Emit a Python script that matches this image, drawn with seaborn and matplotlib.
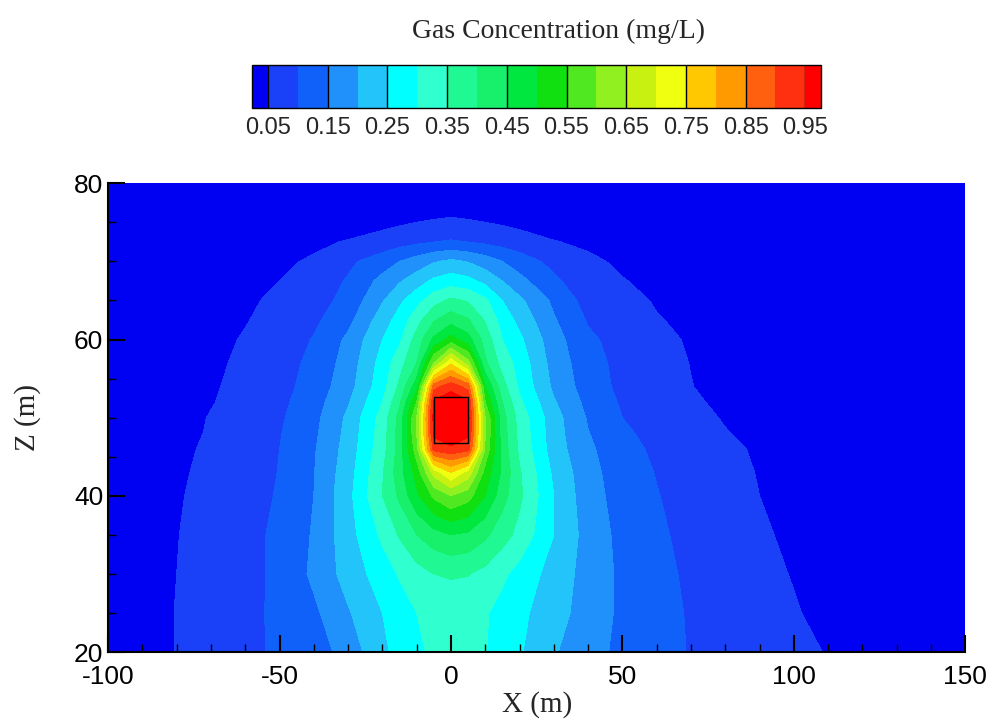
import numpy as np
import matplotlib
matplotlib.use("Agg")
import matplotlib.pyplot as plt
from matplotlib.colors import ListedColormap
import seaborn as sns

x_m = [-100, -90, -80, -70, -60, -50, -40, -30, -20, -15, -10, -5, 0, 5, 10,
       15, 20, 30, 40, 50, 60, 70, 80, 90, 100, 110, 120, 150]
z_m = [20, 25, 30, 35, 40, 43, 46, 48, 50, 52, 54, 57, 60, 62.5, 65, 67.5, 70, 72.5, 75, 77.5, 80]

# gas concentration (mg/L), one row per Z level
conc_z20 = [0.027, 0.038, 0.051, 0.066, 0.088, 0.108, 0.125, 0.17, 0.24, 0.265, 0.295, 0.305, 0.31, 0.307,
            0.302, 0.275, 0.255, 0.205, 0.165, 0.14, 0.118, 0.097, 0.084, 0.072, 0.06, 0.048, 0.035, 0.018]
conc_z25 = [0.027, 0.038, 0.051, 0.065, 0.087, 0.11, 0.14, 0.195, 0.25, 0.275, 0.3, 0.315, 0.32, 0.318,
            0.305, 0.282, 0.262, 0.22, 0.178, 0.14, 0.115, 0.096, 0.08, 0.065, 0.053, 0.04, 0.03, 0.017]
conc_z30 = [0.027, 0.037, 0.05, 0.064, 0.085, 0.11, 0.16, 0.22, 0.275, 0.305, 0.33, 0.35, 0.355, 0.352,
            0.335, 0.31, 0.282, 0.23, 0.18, 0.14, 0.113, 0.092, 0.075, 0.06, 0.048, 0.036, 0.027, 0.016]
conc_z35 = [0.026, 0.036, 0.049, 0.062, 0.085, 0.11, 0.155, 0.23, 0.31, 0.355, 0.4, 0.43, 0.45, 0.44,
            0.41, 0.37, 0.335, 0.25, 0.18, 0.135, 0.108, 0.087, 0.07, 0.056, 0.042, 0.032, 0.024, 0.015]
conc_z40 = [0.025, 0.034, 0.047, 0.06, 0.078, 0.105, 0.15, 0.235, 0.35, 0.41, 0.49, 0.56, 0.6, 0.57,
            0.5, 0.42, 0.36, 0.25, 0.17, 0.13, 0.102, 0.082, 0.065, 0.05, 0.038, 0.03, 0.023, 0.014]
conc_z43 = [0.024, 0.032, 0.045, 0.058, 0.074, 0.102, 0.148, 0.228, 0.345, 0.43, 0.52, 0.67, 0.75, 0.68,
            0.53, 0.44, 0.355, 0.24, 0.168, 0.122, 0.098, 0.079, 0.062, 0.048, 0.037, 0.029, 0.022, 0.014]
conc_z46 = [0.022, 0.03, 0.042, 0.056, 0.072, 0.1, 0.145, 0.22, 0.33, 0.42, 0.58, 0.92, 0.94, 0.92,
            0.59, 0.43, 0.34, 0.225, 0.16, 0.115, 0.092, 0.074, 0.058, 0.045, 0.035, 0.027, 0.021, 0.013]
conc_z48 = [0.021, 0.028, 0.04, 0.053, 0.069, 0.097, 0.14, 0.215, 0.325, 0.42, 0.6, 0.96, 0.99, 0.96,
            0.6, 0.425, 0.335, 0.222, 0.152, 0.108, 0.086, 0.068, 0.052, 0.04, 0.031, 0.024, 0.019, 0.012]
conc_z50 = [0.02, 0.026, 0.037, 0.052, 0.066, 0.093, 0.135, 0.21, 0.32, 0.42, 0.6, 0.97, 1.0, 0.97,
            0.6, 0.42, 0.33, 0.22, 0.145, 0.1, 0.08, 0.062, 0.047, 0.036, 0.028, 0.022, 0.018, 0.012]
conc_z52 = [0.019, 0.026, 0.036, 0.048, 0.063, 0.088, 0.128, 0.195, 0.3, 0.39, 0.55, 0.96, 0.99, 0.96,
            0.55, 0.4, 0.31, 0.205, 0.135, 0.094, 0.073, 0.056, 0.042, 0.032, 0.025, 0.02, 0.016, 0.011]
conc_z54 = [0.018, 0.025, 0.035, 0.046, 0.06, 0.083, 0.12, 0.18, 0.28, 0.36, 0.48, 0.88, 0.93, 0.88,
            0.5, 0.37, 0.29, 0.19, 0.125, 0.088, 0.066, 0.051, 0.038, 0.029, 0.023, 0.018, 0.015, 0.01]
conc_z57 = [0.017, 0.024, 0.033, 0.043, 0.057, 0.078, 0.113, 0.17, 0.27, 0.33, 0.4, 0.6, 0.74, 0.62,
            0.41, 0.33, 0.28, 0.18, 0.12, 0.085, 0.064, 0.049, 0.037, 0.028, 0.022, 0.018, 0.015, 0.01]
conc_z60 = [0.016, 0.022, 0.03, 0.04, 0.053, 0.072, 0.103, 0.16, 0.25, 0.29, 0.37, 0.46, 0.52, 0.47,
            0.38, 0.3, 0.26, 0.17, 0.11, 0.08, 0.06, 0.046, 0.035, 0.027, 0.021, 0.017, 0.014, 0.01]
conc_z62 = [0.015, 0.021, 0.028, 0.037, 0.048, 0.063, 0.09, 0.135, 0.225, 0.27, 0.33, 0.395, 0.43, 0.405,
            0.345, 0.28, 0.235, 0.155, 0.095, 0.072, 0.053, 0.04, 0.03, 0.023, 0.019, 0.016, 0.013, 0.01]
conc_z65 = [0.015, 0.02, 0.026, 0.034, 0.046, 0.055, 0.08, 0.115, 0.196, 0.24, 0.283, 0.33, 0.36, 0.345,
            0.31, 0.25, 0.21, 0.14, 0.08, 0.065, 0.046, 0.034, 0.026, 0.02, 0.017, 0.015, 0.013, 0.01]
conc_z67 = [0.015, 0.019, 0.024, 0.031, 0.04, 0.05, 0.068, 0.105, 0.165, 0.195, 0.225, 0.26, 0.275, 0.265,
            0.235, 0.2, 0.165, 0.11, 0.068, 0.052, 0.04, 0.03, 0.023, 0.019, 0.016, 0.014, 0.012, 0.01]
conc_z70 = [0.015, 0.018, 0.022, 0.028, 0.035, 0.043, 0.055, 0.09, 0.125, 0.15, 0.172, 0.195, 0.21, 0.197,
            0.175, 0.15, 0.125, 0.085, 0.058, 0.043, 0.034, 0.027, 0.021, 0.017, 0.015, 0.014, 0.012, 0.01]
conc_z72 = [0.015, 0.015, 0.02, 0.022, 0.027, 0.033, 0.042, 0.053, 0.07, 0.08, 0.09, 0.099, 0.105, 0.099,
            0.09, 0.08, 0.07, 0.052, 0.042, 0.033, 0.025, 0.02, 0.015, 0.015, 0.014, 0.013, 0.012, 0.01]
conc_z75 = [0.012, 0.013, 0.014, 0.015, 0.016, 0.018, 0.02, 0.027, 0.036, 0.043, 0.05, 0.053, 0.055, 0.053,
            0.05, 0.044, 0.038, 0.028, 0.02, 0.017, 0.015, 0.014, 0.013, 0.012, 0.012, 0.011, 0.011, 0.01]
conc_z77 = [0.012, 0.012, 0.012, 0.012, 0.012, 0.012, 0.012, 0.018, 0.022, 0.026, 0.029, 0.033, 0.035, 0.033,
            0.029, 0.026, 0.022, 0.018, 0.012, 0.012, 0.012, 0.012, 0.012, 0.012, 0.012, 0.012, 0.012, 0.01]
conc_z80 = [0.01, 0.01, 0.01, 0.01, 0.01, 0.01, 0.01, 0.012, 0.018, 0.02, 0.022, 0.025, 0.027, 0.025,
            0.022, 0.02, 0.018, 0.012, 0.01, 0.01, 0.01, 0.01, 0.01, 0.01, 0.01, 0.01, 0.01, 0.01]

levels = [0.05, 0.10, 0.15, 0.20, 0.25, 0.30, 0.35, 0.40, 0.45, 0.50,
          0.55, 0.60, 0.65, 0.70, 0.75, 0.80, 0.85, 0.90, 0.95]
cbar_labels = [0.05, 0.15, 0.25, 0.35, 0.45, 0.55, 0.65, 0.75, 0.85, 0.95]

# source block outline
source_x = [-5, 5, 5, -5, -5]
source_z = [46.8, 46.8, 52.6, 52.6, 46.8]

band_colors = ["#0000f2", "#1a40f8", "#1060fa", "#2090fa", "#22c4fa", "#00ffff", "#30ffd0",
               "#20f894", "#18f06c", "#00e840", "#10e010", "#50e820", "#90f020", "#c8f010",
               "#f0ff10", "#ffc800", "#ff9a00", "#ff6010", "#ff3010", "#ff0000"]

sns.set_style("white")
plt.rcParams["font.family"] = ["Liberation Sans", "DejaVu Sans"]
plt.rcParams["axes.unicode_minus"] = False

conc = np.array([conc_z20, conc_z25, conc_z30, conc_z35, conc_z40, conc_z43, conc_z46, conc_z48,
                 conc_z50, conc_z52, conc_z54, conc_z57, conc_z60, conc_z62, conc_z65, conc_z67,
                 conc_z70, conc_z72, conc_z75, conc_z77, conc_z80])

fig = plt.figure(figsize=(9.92, 7.27), dpi=100)
ax = fig.add_axes([0.109, 0.103, 0.864, 0.645])

cmap = ListedColormap(band_colors[1:-1]).with_extremes(under=band_colors[0], over=band_colors[-1])
cs = ax.contourf(x_m, z_m, conc, levels=levels, cmap=cmap, extend="both")
ax.plot(source_x, source_z, color="black", lw=1)

ax.set_axisbelow(False)
ax.set_xlim(-100, 150)
ax.set_ylim(20, 80)
ax.set_xticks([-100, -50, 0, 50, 100, 150])
ax.set_xticks(np.arange(-100, 151, 10), minor=True)
ax.set_yticks([20, 40, 60, 80])
ax.set_yticks(np.arange(20, 81, 5), minor=True)
ax.tick_params(which="major", direction="in", length=12, width=1.5, labelsize=19,
               bottom=True, left=True, top=False, right=False, colors="black")
ax.tick_params(which="minor", direction="in", length=6, width=1, bottom=True, left=True,
               colors="black")
ax.tick_params(axis="x", which="major", pad=9)
for s in ["top", "right"]:
    ax.spines[s].set_visible(False)
for s in ["bottom", "left"]:
    ax.spines[s].set_color("black")
    ax.spines[s].set_linewidth(1.5)
ax.set_xlabel("X (m)", family="Liberation Serif", fontsize=21, labelpad=2)
ax.set_ylabel("Z (m)", family="Liberation Serif", fontsize=21, labelpad=24)

# colorbar on top
cax = fig.add_axes([0.254, 0.851, 0.574, 0.059])
cbar = fig.colorbar(cs, cax=cax, orientation="horizontal", extendrect=True,
                    extendfrac=0.03, ticks=cbar_labels)
cbar.ax.set_xticklabels([f"{v:.2f}" for v in cbar_labels])
cbar.ax.tick_params(length=0, labelsize=17, pad=6)
for v in cbar_labels:
    cax.axvline(v, color="black", lw=1)
cbar.outline.set_linewidth(1)
cbar.outline.set_edgecolor("black")
fig.text(0.563, 0.957, "Gas Concentration (mg/L)", ha="center", va="center",
         family="Liberation Serif", fontsize=20)

fig.savefig("out.png", dpi=100)
